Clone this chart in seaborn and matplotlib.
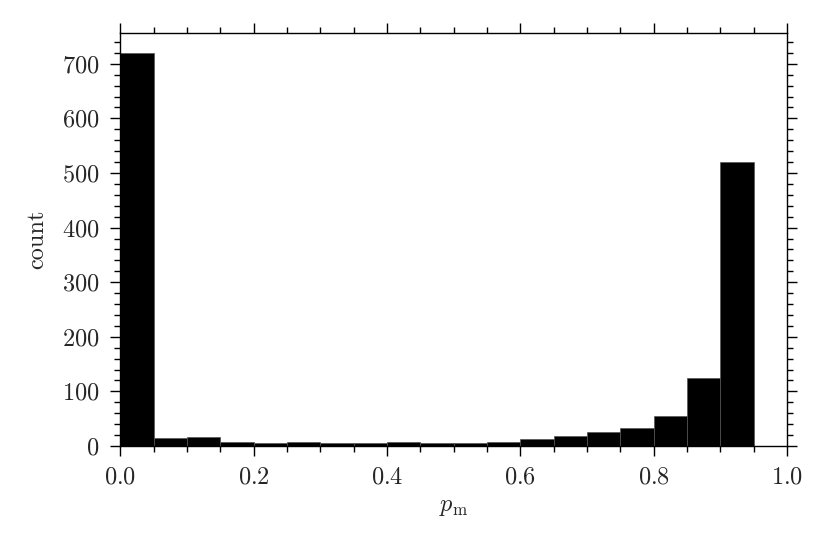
import numpy as np
import pandas as pd
import matplotlib
matplotlib.use("Agg")
import matplotlib.pyplot as plt
import seaborn as sns
from matplotlib.ticker import MultipleLocator

# 直方图数据
bin_edges = [0.0, 0.05, 0.1, 0.15, 0.2, 0.25, 0.3, 0.35, 0.4, 0.45, 0.5,
             0.55, 0.6, 0.65, 0.7, 0.75, 0.8, 0.85, 0.9, 0.95, 1.0]
counts = [720, 14, 16, 7, 5, 7, 5, 6, 8, 5,
          6, 7, 12, 18, 25, 32, 55, 124, 520, 0]

sns.set_style("ticks")
plt.rcParams["font.family"] = ["cmr10", "DejaVu Serif"]
plt.rcParams["mathtext.fontset"] = "cm"
plt.rcParams["axes.formatter.use_mathtext"] = True

centers = [(a + b) / 2 for a, b in zip(bin_edges[:-1], bin_edges[1:])]
df = pd.DataFrame({"p_m": centers, "count": counts})

fig, ax = plt.subplots(figsize=(8.3, 5.54), dpi=100)
sns.histplot(data=df, x="p_m", weights="count", bins=bin_edges, ax=ax,
             color="black", edgecolor="#555555", linewidth=0.5, alpha=1.0)

ax.set_xlim(0, 1)
ax.set_ylim(0, 756)
ax.set_xlabel(r"$p_\mathrm{m}$", fontsize=17.5, labelpad=5)
ax.set_ylabel("count", fontsize=17.5, labelpad=10)

ax.xaxis.set_major_locator(MultipleLocator(0.2))
ax.xaxis.set_minor_locator(MultipleLocator(0.05))
ax.yaxis.set_major_locator(MultipleLocator(100))
ax.yaxis.set_minor_locator(MultipleLocator(20))
ax.tick_params(which="both", direction="out", top=True, right=True,
               labelsize=17.5, width=1.0, color="black")
ax.tick_params(which="major", length=7, pad=8)
ax.tick_params(which="minor", length=4)
for s in ax.spines.values():
    s.set_visible(True)
    s.set_linewidth(1.0)
    s.set_color("black")

fig.subplots_adjust(left=0.145, right=0.948, top=0.94, bottom=0.195)
fig.savefig("out.png", dpi=100)
